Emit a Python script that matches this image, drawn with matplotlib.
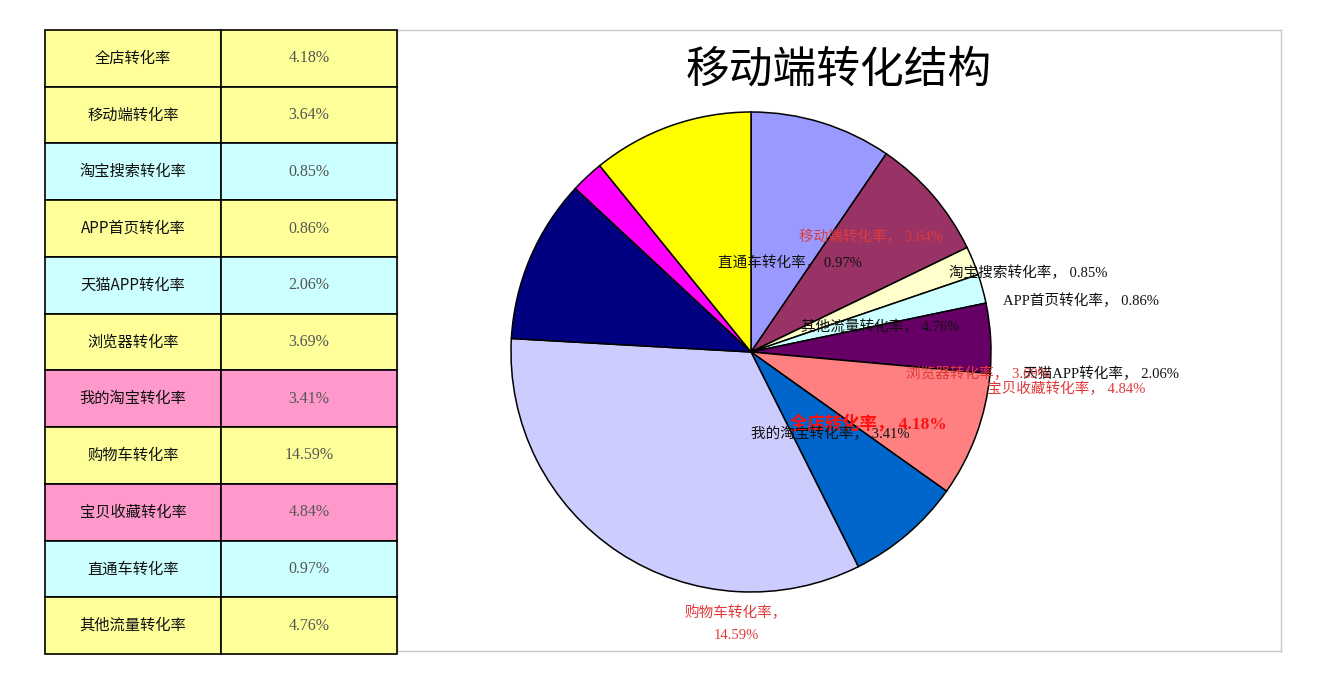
import matplotlib

matplotlib.use("Agg")
import matplotlib.pyplot as plt

plt.rcParams["font.family"] = ["Noto Sans CJK SC", "DejaVu Sans"]

W, H = 1322, 686

# table rows, top to bottom
names = ["全店转化率", "移动端转化率", "淘宝搜索转化率", "APP首页转化率", "天猫APP转化率",
         "浏览器转化率", "我的淘宝转化率", "购物车转化率", "宝贝收藏转化率", "直通车转化率",
         "其他流量转化率"]
rates = [4.18, 3.64, 0.85, 0.86, 2.06, 3.69, 3.41, 14.59, 4.84, 0.97, 4.76]
row_colors = ["#FFFF99", "#FFFF99", "#CCFFFF", "#FFFF99", "#CCFFFF", "#FFFF99",
              "#FF99CC", "#FFFF99", "#FF99CC", "#CCFFFF", "#FFFF99"]

# pie slices, same order as the table, clockwise from 12 o'clock
slice_colors = ["#9999FF", "#993366", "#FFFFCC", "#CCFFFF", "#660066", "#FF8080",
                "#0066CC", "#CCCCFF", "#000080", "#FF00FF", "#FFFF00"]

# where Excel dropped each data label (pixel centre in the screenshot)
label_px = [(868, 424), (871, 237), (1028, 273), (1081, 301), (1101, 374),
            (978, 374), (830, 434), (736, 624), (1066, 389), (790, 263), (880, 327)]
label_red = [True, True, False, False, False, True, False, True, True, False, False]

cx, cy, r = 751, 352, 240

fig = plt.figure(figsize=(W / 100, H / 100), dpi=100)

# chart frame
frame = fig.add_axes([397 / W, 1 - 651 / H, (1281 - 397) / W, (651 - 30) / H])
frame.set_xticks([])
frame.set_yticks([])
for s in frame.spines.values():
    s.set_color("#C8C8C8")
    s.set_linewidth(1)

# table
tax = fig.add_axes([45 / W, 1 - 654 / H, (397 - 45) / W, (654 - 30) / H])
tax.axis("off")
cells = [[n, f"{v:.2f}%"] for n, v in zip(names, rates)]
tbl = tax.table(cellText=cells, cellColours=[[c, c] for c in row_colors],
                cellLoc="center", bbox=[0, 0, 1, 1])
tbl.auto_set_font_size(False)
for (i, j), cell in tbl.get_celld().items():
    cell.set_edgecolor("black")
    cell.set_linewidth(1.2)
    t = cell.get_text()
    if j == 0:
        t.set_fontsize(11)
        t.set_color("#111111")
    else:
        t.set_fontsize(11.5)
        t.set_color("#555555")
        t.set_family(["Liberation Serif", "Noto Sans CJK SC"])

# pie
pax = fig.add_axes([(cx - r) / W, 1 - (cy + r) / H, 2 * r / W, 2 * r / H])
pax.pie(rates, colors=slice_colors, startangle=90, counterclock=False, radius=1,
        wedgeprops=dict(edgecolor="black", linewidth=1.1))
pax.set_xlim(-1, 1)
pax.set_ylim(-1, 1)
pax.axis("off")

for i, (n, v) in enumerate(zip(names, rates)):
    px, py = label_px[i]
    x, y = (px - cx) / r, (cy - py) / r
    sep = "，\n" if i == 7 else "， "
    kw = dict(ha="center", va="center", clip_on=False,
              family=["Liberation Serif", "Noto Sans CJK SC"])
    if i == 0:
        pax.text(x, y, f"{n}{sep}{v:.2f}%", color="#FF1010", fontsize=12.5,
                 fontweight="bold", **kw)
    else:
        pax.text(x, y, f"{n}{sep}{v:.2f}%", color="#E03A3A" if label_red[i] else "#111111",
                 fontsize=10.5, linespacing=1.9, **kw)

fig.text(839 / W, 1 - 70 / H, "移动端转化结构", ha="center", va="center", fontsize=31.5)

fig.savefig("out.png", dpi=100)
